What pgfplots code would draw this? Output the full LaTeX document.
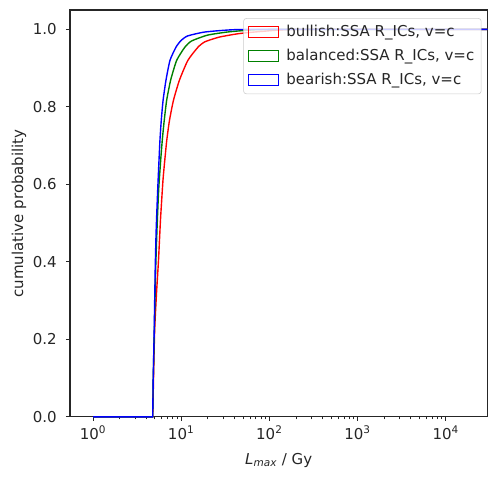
\documentclass[border=0pt]{standalone}
\usepackage{pgfplots}
\pgfplotsset{compat=1.18}
\usepackage{fontspec}
\setmainfont{DejaVu Sans}
\usetikzlibrary{calc}
\definecolor{mplgreen}{RGB}{0,128,0}
\definecolor{txt}{RGB}{38,38,38}
\begin{document}
\begin{tikzpicture}
\begin{axis}[
  name=ax,
  scale only axis,
  width=300.7pt, height=293pt,
  xmode=log,
  xmin=0.548, xmax=29700,
  ymin=0, ymax=1.05,
  xtick={1,10,100,1000,10000},
  xticklabels={10\textsuperscript{0},10\textsuperscript{1},10\textsuperscript{2},10\textsuperscript{3},10\textsuperscript{4}},
  ytick={0,0.2,0.4,0.6,0.8,1.0},
  yticklabels={0.0,0.2,0.4,0.6,0.8,1.0},
  tick align=outside,
  tick pos=left,
  major tick length=3pt,
  minor tick length=1.8pt,
  every tick/.style={black!85, line width=0.7pt},
  minor tick style={line width=0.5pt},
  axis line style={line width=0.8pt, black!85},
  ticklabel style={font=\fontsize{10.8}{13}\selectfont, text=txt},
  yticklabel style={xshift=-3pt},
  xlabel={{\itshape L}\textsubscript{\itshape max} / Gy},
  ylabel={cumulative probability},
  label style={font=\fontsize{10.8}{13}\selectfont, text=txt},
  xlabel style={yshift=-3pt},
  ylabel style={yshift=-2pt},
  clip=false,
  legend cell align=left,
  legend style={at={(axis description cs:0.9856,0.98)}, anchor=north east,
    draw=black!20, fill=white, fill opacity=0.8, text opacity=1, rounded corners=2pt,
    font=\fontsize{10.8}{13}\selectfont, row sep=3.6pt, inner sep=3pt, text=txt},
  legend image code/.code={\draw[#1, line width=0.8pt, sharp corners] (0pt,-3.85pt) rectangle (21.6pt,3.85pt); \path (25pt,0pt);},
]
\addplot[red, line width=1pt, forget plot] coordinates {(1,0) (4.75,0) (4.85,0.095)};
\addplot[red, line width=1pt, smooth, tension=0.35] coordinates {
(4.85,0.095) (5.0,0.224) (5.25,0.32) (5.53,0.405) (5.82,0.508) (6.21,0.61) (6.51,0.662)
(6.86,0.714) (7.36,0.765) (8.17,0.817) (9.55,0.869) (11.9,0.920) (15.5,0.954) (18.6,0.968)
(27,0.980) (45,0.989) (85,0.995) (220,1.0) (29700,1.0)
};
\addlegendentry{bullish:SSA R\_ICs, v=c}
\addplot[mplgreen, line width=1pt, forget plot] coordinates {(1,0) (4.75,0) (4.81,0.095)};
\addplot[mplgreen, line width=1pt, smooth, tension=0.35] coordinates {
(4.81,0.095) (4.96,0.224) (5.13,0.379) (5.31,0.482) (5.55,0.585) (5.85,0.662) (6.1,0.714)
(6.42,0.765) (6.84,0.817) (7.59,0.869) (8.88,0.920) (11.0,0.954) (13.1,0.970) (19.8,0.985)
(33,0.993) (59,0.998) (128,1.0) (29700,1.0)
};
\addlegendentry{balanced:SSA R\_ICs, v=c}
\addplot[blue, line width=1pt, forget plot] coordinates {(1,0) (4.75,0) (4.81,0.095)};
\addplot[blue, line width=1pt, smooth, tension=0.35] coordinates {
(4.81,0.095) (4.94,0.224) (5.07,0.379) (5.20,0.482) (5.41,0.585) (5.6,0.662) (5.74,0.714)
(5.94,0.765) (6.23,0.817) (6.72,0.869) (7.46,0.920) (8.72,0.954) (9.94,0.971) (11.8,0.983)
(18.3,0.993) (35,0.9985) (76,1.0) (29700,1.0)
};
\addlegendentry{bearish:SSA R\_ICs, v=c}
\end{axis}
\path[use as bounding box] ($(ax.south west)+(-50.4pt,-47.5pt)$) rectangle ($(ax.north east)+(5.4pt,7.2pt)$);
\end{tikzpicture}
\end{document}
